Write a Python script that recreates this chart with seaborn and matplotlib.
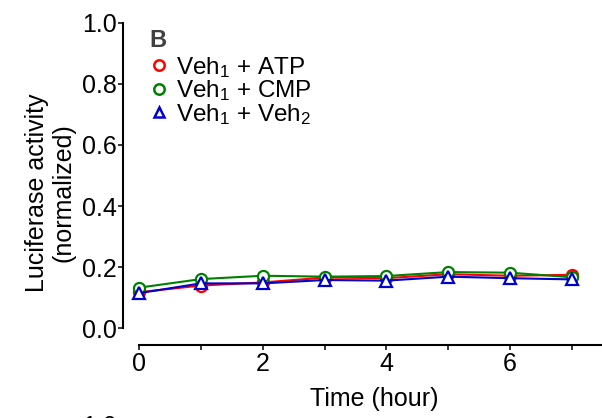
import matplotlib
matplotlib.use("Agg")
import matplotlib.pyplot as plt
from matplotlib.lines import Line2D
from matplotlib.ticker import MultipleLocator
import pandas as pd
import seaborn as sns

# Luciferase time course, vehicle-pretreated groups
hours = [0, 1, 2, 3, 4, 5, 6, 7]
veh_atp = [0.118, 0.140, 0.150, 0.166, 0.164, 0.177, 0.172, 0.175]
veh_cmp = [0.133, 0.161, 0.172, 0.169, 0.171, 0.184, 0.182, 0.167]
veh_veh = [0.115, 0.147, 0.147, 0.158, 0.156, 0.169, 0.164, 0.160]

groups = ["Veh$_1$ + ATP", "Veh$_1$ + CMP", "Veh$_1$ + Veh$_2$"]
colors = ["#ff0000", "#008000", "#0000cc"]
markers = ["o", "o", "^"]
x_ticks = [0, 2, 4, 6]
y_ticks = [0.0, 0.2, 0.4, 0.6, 0.8, 1.0]

df = pd.DataFrame({
    "Time": hours * 3,
    "Activity": veh_atp + veh_cmp + veh_veh,
    "Group": [g for g in groups for _ in hours],
})

sns.set_style("ticks")
plt.rcParams["font.family"] = ["Liberation Sans", "DejaVu Sans"]
plt.rcParams["mathtext.fontset"] = "custom"
plt.rcParams["mathtext.rm"] = "Liberation Sans"
plt.rcParams["mathtext.it"] = "Liberation Sans:italic"
plt.rcParams["mathtext.bf"] = "Liberation Sans:bold"
for key in ("text.color", "axes.labelcolor", "xtick.color", "ytick.color",
            "xtick.labelcolor", "ytick.labelcolor"):
    plt.rcParams[key] = "black"

W, H = 602, 418
fig = plt.figure(figsize=(W / 100, H / 100), dpi=100)
ax_left, ax_right, ax_top, ax_bottom = 122.7, 602, 22.7, 344.5
ax = fig.add_axes([ax_left / W, 1 - ax_bottom / H,
                   (ax_right - ax_left) / W, (ax_bottom - ax_top) / H])

for g, c, m in zip(groups, colors, markers):
    sns.lineplot(data=df[df["Group"] == g], x="Time", y="Activity",
                 color=c, marker=m, markersize=8, markerfacecolor="white",
                 markeredgecolor=c, markeredgewidth=1.6, linewidth=1.5,
                 errorbar=None, legend=False, ax=ax)

x_min, x_max = -0.264, 7.486
ax.set_xlim(x_min, x_max)
ax.set_ylim(-0.053, 1.0)
ax.spines["left"].set_bounds(0.0, 1.0)
ax.spines["bottom"].set_bounds(0.0, x_max)
for side in ("top", "right"):
    ax.spines[side].set_visible(False)
for side in ("left", "bottom"):
    ax.spines[side].set_linewidth(1.5)
    ax.spines[side].set_color("black")

ax.set_xticks(x_ticks)
ax.xaxis.set_minor_locator(MultipleLocator(1))
ax.set_yticks(y_ticks)
ax.set_yticklabels([f"{v:.1f}" for v in y_ticks])
ax.tick_params(which="both", length=3.6, width=1.1, color="black",
               labelsize=18, labelcolor="black")
ax.tick_params(axis="y", pad=0.5)
ax.tick_params(axis="x", pad=1.5)

ax.set_xlabel("Time (hour)", fontsize=18, color="black")
ax.set_ylabel("Luciferase activity\n(normalized)", fontsize=18,
              linespacing=1.15, color="black")
ax.xaxis.set_label_coords((374 - ax_left) / (ax_right - ax_left),
                          -(387 - ax_bottom) / (ax_bottom - ax_top))
ax.yaxis.set_label_coords(-(ax_left - 76) / (ax_right - ax_left),
                          (ax_bottom - 193) / (ax_bottom - ax_top))

handles = [Line2D([], [], color=c, marker=m, linestyle="none",
                  markerfacecolor="white", markeredgecolor=c,
                  markeredgewidth=1.8, markersize=7.5)
           for c, m in zip(colors, markers)]
leg = ax.legend(handles, groups, loc="upper left",
                bbox_to_anchor=(149 / W, 1 - 55 / H),
                bbox_transform=fig.transFigure, frameon=False,
                fontsize=17.5, handlelength=0.8, handletextpad=0.3,
                labelspacing=-0.065, borderpad=0, borderaxespad=0)
for t in leg.get_texts():
    t.set_color("black")

# panel letter above the legend
fig.text(149 / W, 1 - 47 / H, "B", ha="left", va="baseline",
         fontsize=17, fontweight="bold", color="#404040")

# top of the neighbouring panel's axis label peeking in at the bottom edge
fig.text(117 / W, 1 - 415 / H, "1.0", ha="right", va="top", fontsize=18)

fig.savefig("out.png", dpi=100)
